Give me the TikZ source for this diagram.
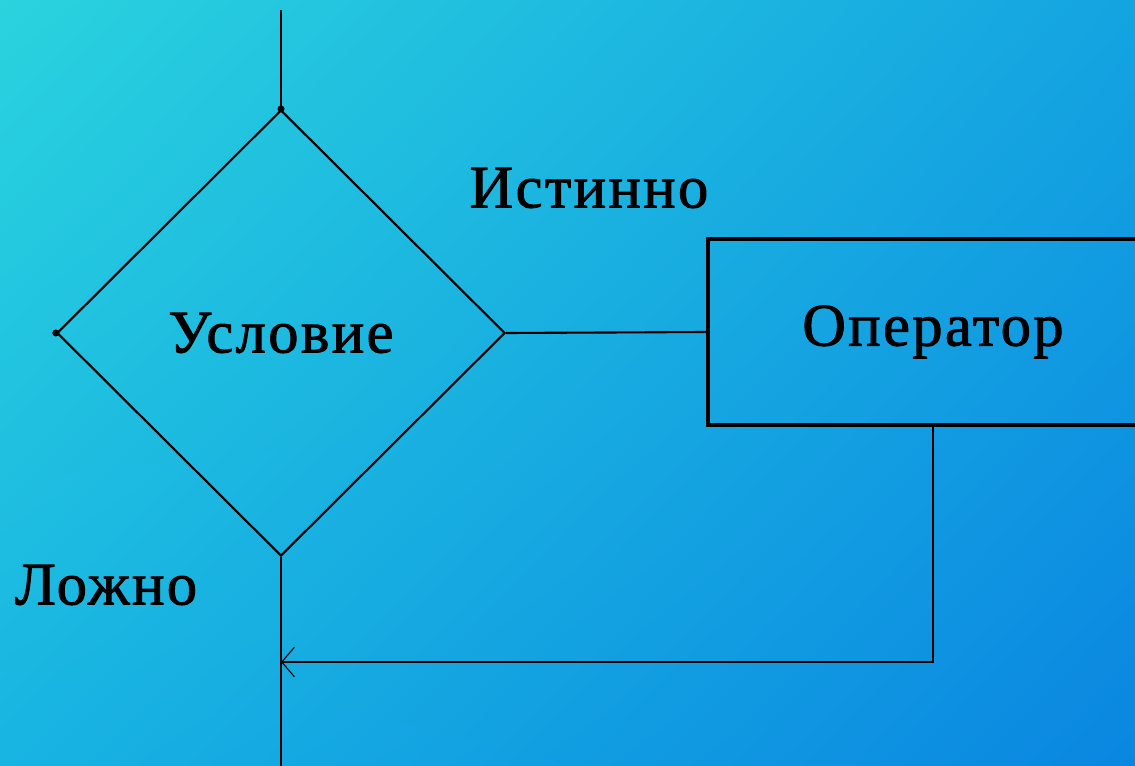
\documentclass[tikz,border=0pt]{standalone}
\usepackage{fontspec}
\setmainfont{Liberation Serif}
\newfontfamily\flowfont[LetterSpace=4,FakeBold=1.5]{Liberation Serif}
\usetikzlibrary{shapes.geometric}
\usetikzlibrary{shadings}
\usetikzlibrary{arrows.meta}
\definecolor{bgtl}{RGB}{42,211,222}
\definecolor{bgtr}{RGB}{20,164,225}
\definecolor{bgbl}{RGB}{24,180,226}
\definecolor{bgbr}{RGB}{10,134,225}
\tikzset{
    condnode/.style = {diamond, draw=black, line width=1.5pt, inner sep=0pt, minimum width=11.2cm, minimum height=11.15cm, font=\flowfont\fontsize{43}{50}\selectfont},
    opnode/.style = {rectangle, draw=black, line width=2.8pt, inner sep=0pt, minimum width=11.25cm, minimum height=4.65cm, font=\flowfont\fontsize{43}{50}\selectfont},
    lblnode/.style = {inner sep=0pt, font=\flowfont\fontsize{43}{50}\selectfont},
    dotnode/.style = {circle, fill=black, inner sep=0pt, minimum size=5pt},
    edgen/.style = {line width=1.5pt, draw=black},
    edgea/.style = {-{Straight Barb[length=9pt,width=21pt,line width=0.8pt]}, line width=1.5pt, draw=black}
}

\begin{document}
\begin{tikzpicture}[x=0.025cm, y=-0.025cm]
  \useasboundingbox (0,0) rectangle (1135,766);
  \clip (0,0) rectangle (1135,766);
  \shade[upper left=bgtl, upper right=bgtr, lower left=bgbl, lower right=bgbr] (0,0) rectangle (1135,766);

  \node[condnode] at (281,333) (cond) {Условие};
  \node[opnode] at (933,332) (op) {Оператор};
  \node[lblnode] at (589,188) (yes) {Истинно};
  \node[lblnode] at (106,585) (no) {Ложно};

  \coordinate (top) at (cond.north |- 0,10);
  \coordinate (bot) at (cond.south |- 0,766);
  \coordinate (join) at (cond.south |- 0,662);

  \node[dotnode] at (cond.north) (dtop) {};
  \node[dotnode] at (cond.west) (dleft) {};

  \draw[edgen] (top) -- (cond.north);
  \draw[edgen] (cond.south) -- (bot);
  \draw[edgen] (cond.east) -- (op.west);
  \draw[edgea] (op.south) |- (join);
\end{tikzpicture}
\end{document}
